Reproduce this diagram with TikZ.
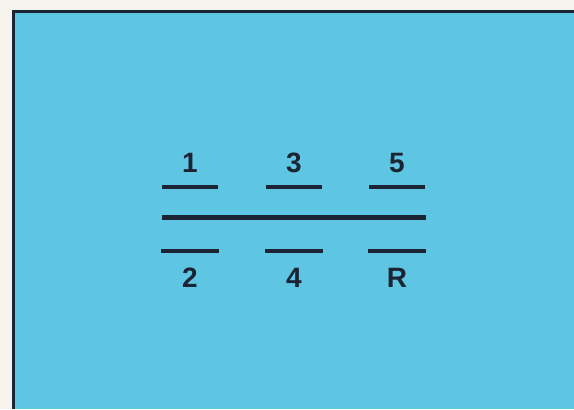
\documentclass[tikz,border=0pt]{standalone}
\usepackage{fontspec}
\setmainfont{Liberation Sans}
\usetikzlibrary{positioning}
\definecolor{shiftblue}{HTML}{5EC6E2}
\definecolor{framedark}{HTML}{1B2433}
\definecolor{paperwhite}{HTML}{F6F3EC}

\begin{document}
\begin{tikzpicture}[
		x=0.5pt,
		y=-0.5pt,
		every node/.style={font=\fontsize{14}{16}\selectfont\bfseries, text=framedark, inner sep=0pt}
	]
		\fill[paperwhite] (0,0) rectangle (574,409);
		\useasboundingbox (0,0) rectangle (574,409);
		\fill[shiftblue] (13,11) rectangle (574,409);
		\draw[framedark, line width=1.5pt]
			(13,409) -- (13,11) -- (574,11);

		% neutral line
		\coordinate (neutralleft) at (162,217);
		\coordinate (neutralright) at (426,217);
		\draw[framedark, line width=2.5pt] (neutralleft) -- (neutralright);

		\foreach \x/\upper/\lower in {
			190/1/2,
			294/3/4,
			397/5/R
		}{
			\draw[framedark, line width=2pt]
				(\x-28,187) -- (\x+28,187);
			\draw[framedark, line width=2pt]
				(\x-29,251) -- (\x+29,251);
			\node (gear\upper) at (\x,163) {\upper};
			\node (gear\lower) at (\x,278) {\lower};
		}
	\end{tikzpicture}
\end{document}
